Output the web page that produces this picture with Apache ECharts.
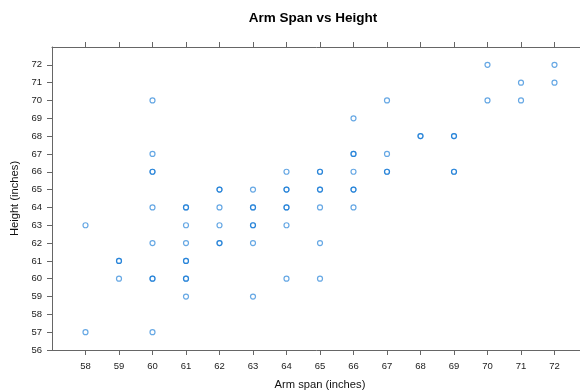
<!DOCTYPE html>
<html>
<head>
<meta charset="utf-8">
<script src="https://cdn.jsdelivr.net/npm/echarts@6/dist/echarts.min.js"></script>
<style>
  html, body { margin: 0; padding: 0; background: #fff; }
  #chart { width: 580px; height: 391px; }
</style>
</head>
<body>
<div id="chart"></div>
<script>
// Arm span and height of each student, in inches (repeated pairs are kept).
const armSpan = [
  58, 58,
  59, 59, 59,
  60, 60, 60, 60, 60, 60, 60, 60, 60,
  61, 61, 61, 61, 61, 61, 61, 61, 61,
  62, 62, 62, 62, 62, 62,
  63, 63, 63, 63, 63, 63, 63,
  64, 64, 64, 64, 64, 64, 64,
  65, 65, 65, 65, 65, 65, 65,
  66, 66, 66, 66, 66, 66, 66,
  67, 67, 67, 67,
  68, 68,
  69, 69, 69, 69,
  70, 70,
  71, 71,
  72, 72
];
const heightIn = [
  63, 57,
  61, 61, 60,
  70, 67, 66, 66, 64, 62, 60, 60, 57,
  64, 64, 63, 62, 61, 61, 60, 60, 59,
  65, 65, 64, 63, 62, 62,
  65, 64, 64, 63, 63, 62, 59,
  66, 65, 65, 64, 64, 63, 60,
  66, 66, 65, 65, 64, 62, 60,
  69, 67, 67, 66, 65, 65, 64,
  70, 67, 66, 66,
  68, 68,
  68, 68, 66, 66,
  72, 70,
  71, 70,
  72, 71
];
const xTicks = [58, 59, 60, 61, 62, 63, 64, 65, 66, 67, 68, 69, 70, 71, 72];
const yTicks = [56, 57, 58, 59, 60, 61, 62, 63, 64, 65, 66, 67, 68, 69, 70, 71, 72];

const points = armSpan.map((x, i) => [x, heightIn[i]]);

const font = 'Liberation Sans, Arial, Helvetica, sans-serif';
const lineStyle = { color: '#666', width: 1 };

const chart = echarts.init(document.getElementById('chart'), null, { renderer: 'canvas' });
chart.setOption({
  animation: false,
  backgroundColor: '#fff',
  title: {
    text: 'Arm Span vs Height',
    left: 308,
    top: 6,
    textAlign: 'center',
    textStyle: { fontFamily: font, fontSize: 13.5, fontWeight: 'bold', color: '#000' }
  },
  // the panel box runs past the right edge of the page
  grid: { left: 52, top: 47, width: 536, height: 303, containLabel: false, outerBoundsMode: 'none' },
  xAxis: [
    {
      type: 'value', position: 'bottom', min: 57, max: 73, interval: 1,
      name: 'Arm span (inches)', nameLocation: 'middle', nameGap: 29,
      nameTextStyle: { fontFamily: font, fontSize: 11.2, color: '#111' },
      axisLine: { show: true, onZero: false, lineStyle },
      axisTick: { show: true, length: 5, lineStyle, customValues: xTicks },
      axisLabel: { show: true, margin: 11, fontFamily: font, fontSize: 9.5, color: '#222', customValues: xTicks },
      splitLine: { show: false }
    },
    {
      type: 'value', position: 'top', min: 57, max: 73, interval: 1,
      axisLine: { show: true, onZero: false, lineStyle },
      axisTick: { show: true, length: 5, lineStyle, customValues: xTicks },
      axisLabel: { show: false },
      splitLine: { show: false }
    }
  ],
  yAxis: [
    {
      type: 'value', position: 'left', min: 56, max: 73, interval: 1,
      name: 'Height (inches)', nameLocation: 'middle', nameGap: 29, nameRotate: 90,
      nameTextStyle: { fontFamily: font, fontSize: 11.2, color: '#111' },
      axisLine: { show: true, onZero: false, lineStyle },
      axisTick: { show: true, length: 5, lineStyle, customValues: yTicks },
      axisLabel: { show: true, margin: 10, fontFamily: font, fontSize: 9.5, color: '#222', customValues: yTicks },
      splitLine: { show: false }
    }
  ],
  series: [
    {
      type: 'scatter',
      xAxisIndex: 0,
      yAxisIndex: 0,
      data: points,
      symbol: 'circle',
      symbolSize: 5,
      itemStyle: {
        color: 'rgba(255,255,255,0)',
        borderColor: 'rgba(0,110,210,0.75)',
        borderWidth: 1.2
      }
    }
  ]
});
</script>
</body>
</html>
